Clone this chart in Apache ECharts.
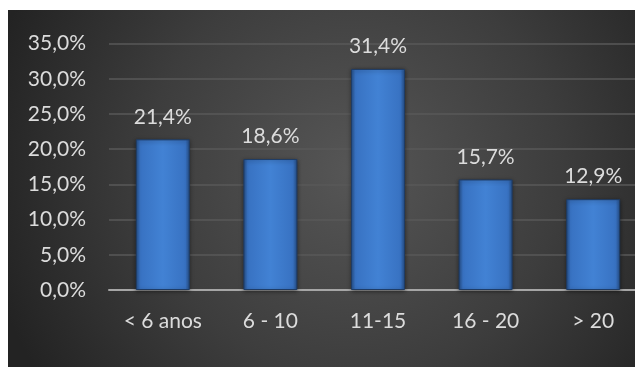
<!DOCTYPE html>
<html>
<head>
<meta charset="utf-8">
<script src="https://cdn.jsdelivr.net/npm/echarts@6/dist/echarts.min.js"></script>
<style>
  html, body { margin: 0; padding: 0; background: #ffffff; overflow: hidden; }
  #wrap { position: absolute; left: 8px; top: 10px; width: 627px; height: 357px; overflow: hidden; }
  #chart { position: absolute; left: 0; top: 0; width: 639px; height: 357px; }
</style>
</head>
<body>
<div id="wrap"><div id="chart"></div></div>
<script>
// Faixas de tempo e percentuais
const categories = ['< 6 anos', '6 - 10', '11-15', '16 - 20', '> 20'];
const percentValues = [21.4, 18.6, 31.4, 15.7, 12.9];
const yTicks = [0, 5, 10, 15, 20, 25, 30, 35];

const fmt = v => v.toFixed(1).replace('.', ',') + '%';
const FONT = 'Lato, "Open Sans", sans-serif';

const chart = echarts.init(document.getElementById('chart'));
chart.setOption({
  backgroundColor: {
    type: 'radial', x: 0.54, y: 0.45, r: 1.05,
    colorStops: [
      { offset: 0, color: '#565656' },
      { offset: 0.55, color: '#3d3d3d' },
      { offset: 1, color: '#232323' }
    ]
  },
  animation: false,
  grid: { left: 101, right: 0, top: 33.6, bottom: 77, containLabel: false },
  xAxis: {
    type: 'category',
    data: categories,
    axisLine: { lineStyle: { color: '#a6a6a6', width: 2 } },
    axisTick: { show: false },
    axisLabel: { color: '#dcdcdc', fontSize: 21, fontFamily: FONT, margin: 21 }
  },
  yAxis: {
    type: 'value',
    min: yTicks[0],
    max: yTicks[yTicks.length - 1],
    interval: 5,
    axisLine: { show: false },
    axisTick: { show: false },
    splitLine: { lineStyle: { color: '#595959', width: 1.5 } },
    axisLabel: { color: '#dcdcdc', fontSize: 21, fontFamily: FONT, margin: 23, formatter: v => fmt(v) }
  },
  series: [{
    type: 'bar',
    data: percentValues,
    barWidth: 54,
    itemStyle: {
      color: {
        type: 'linear', x: 0, y: 0, x2: 1, y2: 0,
        colorStops: [
          { offset: 0, color: '#264f88' },
          { offset: 0.08, color: '#3872c2' },
          { offset: 0.5, color: '#4282d4' },
          { offset: 0.92, color: '#3872c2' },
          { offset: 1, color: '#264f88' }
        ]
      },
      borderColor: '#1e3c66',
      borderWidth: 1,
      shadowColor: 'rgba(0,0,0,0.45)',
      shadowBlur: 4,
      shadowOffsetY: 1
    },
    label: {
      show: true,
      position: 'top',
      distance: 12,
      color: '#dcdcdc',
      fontSize: 21,
      fontFamily: FONT,
      formatter: p => fmt(p.value)
    }
  }]
});
</script>
</body>
</html>
